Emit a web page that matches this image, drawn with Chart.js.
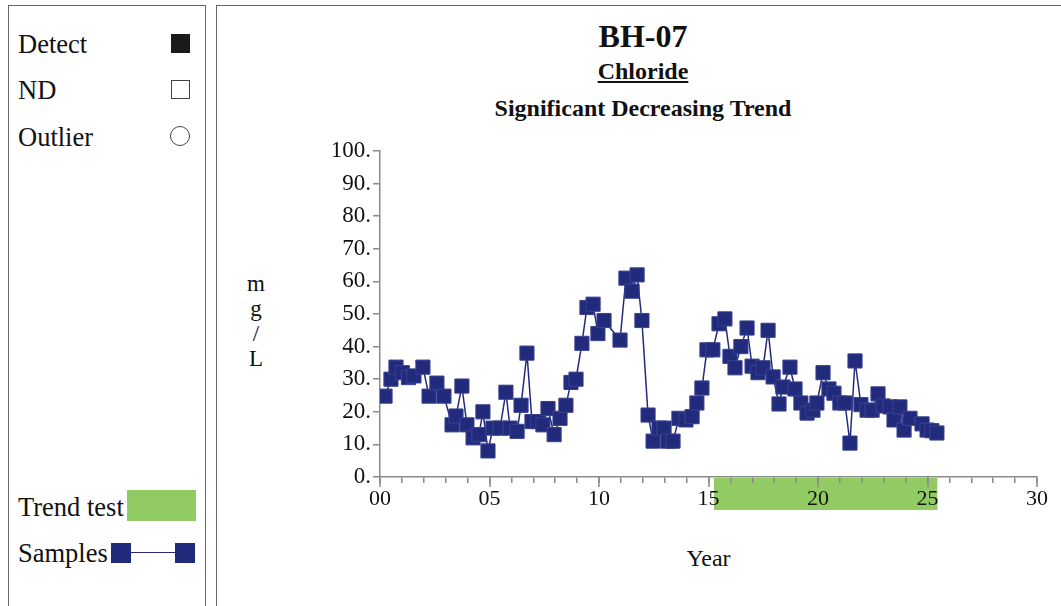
<!DOCTYPE html>
<html>
<head>
<meta charset="utf-8">
<script src="https://cdn.jsdelivr.net/npm/chart.js@4/dist/chart.umd.min.js"></script>
<style>
  body { margin: 0; width: 1061px; height: 606px; overflow: hidden; background: #fff;
         font-family: "Liberation Serif", "Times New Roman", serif; color: #111; position: relative; }
  .panel { position: absolute; border: 1px solid #666; box-sizing: border-box; }
  .lbl { position: absolute; font-size: 26.5px; line-height: 1; white-space: nowrap; }
  .sq { position: absolute; box-sizing: border-box; }
  .ttl { position: absolute; left: 221px; width: 844px; text-align: center; font-weight: bold; white-space: nowrap; line-height: 1; }
  #chartWrap { position: absolute; left: 217px; top: 5px; }
</style>
</head>
<body>
<div class="panel" style="left:8px; top:5px; width:198px; height:620px;"></div>
<div class="panel" style="left:216px; top:5px; width:860px; height:620px;"></div>

<!-- left legend -->
<div class="lbl" style="left:18px; top:31px;">Detect</div>
<div class="sq" style="left:171px; top:34px; width:19px; height:19px; background:#1a1a1a;"></div>
<div class="lbl" style="left:18px; top:77px;">ND</div>
<div class="sq" style="left:171px; top:80px; width:19px; height:19px; border:1px solid #444;"></div>
<div class="lbl" style="left:18px; top:124px;">Outlier</div>
<div class="sq" style="left:170px; top:126px; width:20px; height:20px; border:1px solid #444; border-radius:50%;"></div>
<div class="lbl" style="left:18px; top:494px;">Trend test</div>
<div class="sq" style="left:127px; top:490px; width:69px; height:31px; background:#92cb63;"></div>
<div class="lbl" style="left:18px; top:540px;">Samples</div>
<div class="sq" style="left:111px; top:543px; width:20px; height:20px; background:#222a7c;"></div>
<div class="sq" style="left:131px; top:552px; width:44px; height:1px; background:#222a7c;"></div>
<div class="sq" style="left:175px; top:543px; width:20px; height:20px; background:#222a7c;"></div>

<!-- titles -->
<div class="ttl" style="top:20px; font-size:32px;">BH-07</div>
<div class="ttl" style="top:59px; font-size:24px;"><span style="text-decoration:underline;">Chloride</span></div>
<div class="ttl" style="top:96px; font-size:24px;">Significant Decreasing Trend</div>
<div style="position:absolute; left:243px; top:271px; width:26px; text-align:center; font-size:23px; line-height:25px;">m<br>g<br>/<br>L</div>
<div style="position:absolute; left:380px; width:657px; top:545px; text-align:center; font-size:24px;">Year</div>

<div id="chartWrap"><canvas id="trendChart" width="844" height="601"></canvas></div>

<script>
// sample dates in decimal years since 2000, and chloride in mg/L
const sampleYears = [
  0.23, 0.50, 0.73, 1.02, 1.30, 1.55, 1.96, 2.24, 2.60, 2.92,
  3.29, 3.47, 3.74, 3.97, 4.25, 4.52, 4.70, 4.93, 5.16, 5.48,
  5.75, 5.94, 6.26, 6.44, 6.71, 6.94, 7.21, 7.44, 7.67, 7.95,
  8.22, 8.49, 8.72, 8.95, 9.22, 9.45, 9.73, 9.95, 10.23, 10.96,
  11.23, 11.51, 11.74, 11.96, 12.24, 12.47, 12.74, 12.97, 13.15, 13.38,
  13.65, 13.97, 14.25, 14.47, 14.70, 14.93, 15.20, 15.48, 15.75, 15.98,
  16.21, 16.48, 16.76, 16.99, 17.26, 17.49, 17.72, 17.95, 18.22, 18.40,
  18.72, 18.95, 19.22, 19.50, 19.77, 19.95, 20.23, 20.50, 20.73, 21.00,
  21.23, 21.46, 21.69, 21.96, 22.24, 22.47, 22.74, 22.97, 23.29, 23.47,
  23.74, 23.93, 24.20, 24.75, 24.98, 25.20, 25.43
];
const chlorideValues = [
  24.8, 30.0, 33.7, 32.0, 30.5, 31.0, 33.7, 24.8, 28.8, 24.8,
  16.0, 18.7, 27.9, 16.0, 12.0, 13.0, 20.0, 8.0, 15.0, 15.0,
  26.0, 15.0, 14.0, 22.0, 38.0, 17.0, 17.0, 16.0, 21.0, 13.0,
  18.0, 22.0, 29.0, 30.0, 41.0, 52.0, 53.0, 44.0, 48.0, 42.0,
  61.0, 57.0, 62.0, 48.0, 19.0, 11.0, 15.0, 15.0, 11.0, 11.0,
  18.0, 17.5, 18.5, 22.7, 27.3, 39.0, 39.0, 47.0, 48.5, 37.0,
  33.5, 40.0, 45.7, 34.0, 32.0, 33.5, 45.0, 30.7, 22.4, 27.6,
  33.7, 27.0, 22.7, 19.6, 20.5, 22.7, 32.0, 27.0, 25.7, 22.7,
  22.7, 10.4, 35.6, 22.2, 20.5, 20.5, 25.5, 21.8, 21.5, 17.5,
  21.5, 14.4, 18.0, 16.3, 14.4, 14.2, 13.5
];
const xTickLabels = ['00', '05', '10', '15', '20', '25', '30'];
const yTickLabels = ['0.', '10.', '20.', '30.', '40.', '50.', '60.', '70.', '80.', '90.', '100.'];
const trendTestRange = [15.25, 25.45];

const sampleColor = '#222a7c';
const axisColor = '#8a8a8a';
const serif = '"Liberation Serif", "Times New Roman", serif';

// green band under the axis for the trend test period
const trendBand = {
  id: 'trendBand',
  beforeDraw(chart) {
    const x = chart.scales.x;
    const ctx = chart.ctx;
    const x0 = x.getPixelForValue(trendTestRange[0]);
    const x1 = x.getPixelForValue(trendTestRange[1]);
    ctx.save();
    ctx.fillStyle = '#92cb63';
    ctx.fillRect(x0, x.top + 1, x1 - x0, 32);
    ctx.restore();
  }
};

// longer ticks at the labelled years
const majorTicks = {
  id: 'majorTicks',
  afterDraw(chart) {
    const x = chart.scales.x;
    const ctx = chart.ctx;
    ctx.save();
    ctx.strokeStyle = axisColor;
    ctx.lineWidth = 1.5;
    xTickLabels.forEach(function(lab) {
      const px = Math.round(x.getPixelForValue(Number(lab)));
      ctx.beginPath();
      ctx.moveTo(px, x.top);
      ctx.lineTo(px, x.top + 10);
      ctx.stroke();
    });
    ctx.restore();
  }
};

const points = sampleYears.map(function(t, i) { return { x: t, y: chlorideValues[i] }; });

new Chart(document.getElementById('trendChart'), {
  type: 'scatter',
  data: {
    datasets: [{
      label: 'Samples',
      data: points,
      showLine: true,
      borderColor: sampleColor,
      borderWidth: 1.5,
      backgroundColor: sampleColor,
      pointStyle: 'rect',
      pointRadius: 10,
      pointBorderWidth: 1,
      pointBorderColor: '#3a4290',
      pointHoverRadius: 10
    }]
  },
  options: {
    responsive: false,
    animation: false,
    devicePixelRatio: 1,
    layout: { padding: { top: 146, right: 24, bottom: 0, left: 0 } },
    plugins: {
      legend: { display: false },
      tooltip: { enabled: false }
    },
    scales: {
      x: {
        type: 'linear',
        min: 0,
        max: 30,
        afterFit: function(scale) { scale.height = 129; },
        border: { color: axisColor, width: 1.5 },
        grid: { drawOnChartArea: false, drawTicks: true, tickLength: 6, color: axisColor, lineWidth: 1.5 },
        ticks: {
          stepSize: 1,
          autoSkip: false,
          maxRotation: 0,
          padding: 3,
          color: '#111',
          font: { family: serif, size: 22 },
          callback: function(v) {
            const lab = xTickLabels.find(function(l) { return Number(l) === v; });
            return lab === undefined ? '' : lab;
          }
        }
      },
      y: {
        min: 0,
        max: 100,
        afterFit: function(scale) { scale.width = 163; },
        border: { color: axisColor, width: 1.5 },
        grid: { drawOnChartArea: false, drawTicks: true, tickLength: 7, color: axisColor, lineWidth: 1.5 },
        ticks: {
          stepSize: 10,
          padding: 2,
          color: '#111',
          font: { family: serif, size: 23 },
          callback: function(v) { return yTickLabels[Math.round(v / 10)]; }
        }
      }
    }
  },
  plugins: [trendBand, majorTicks]
});
</script>
</body>
</html>
